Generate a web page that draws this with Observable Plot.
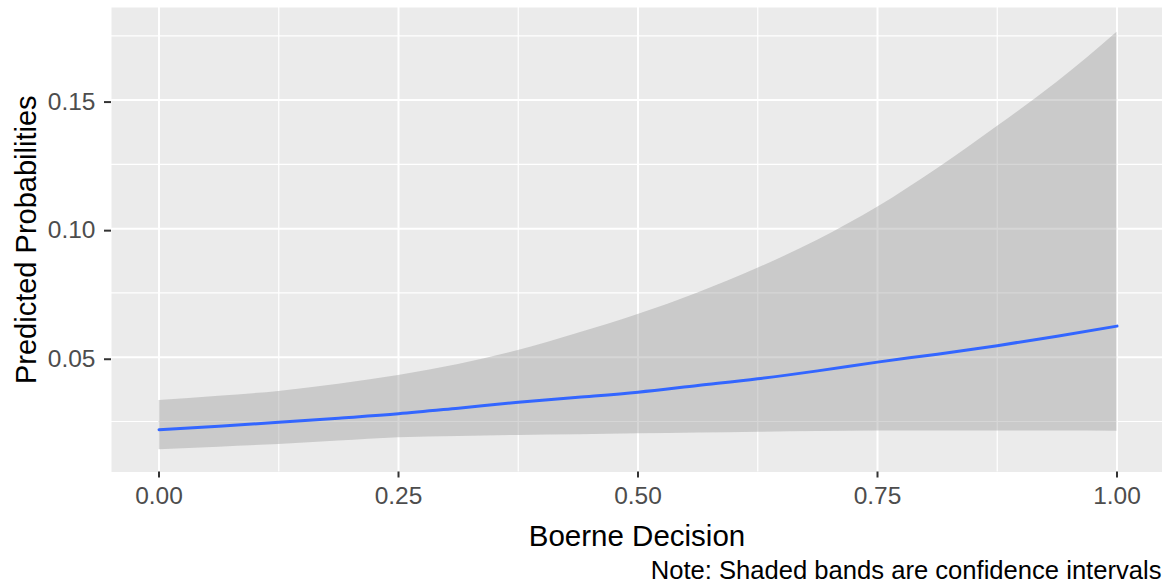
<!DOCTYPE html>
<html>
<head>
<meta charset="utf-8">
<script src="https://cdn.jsdelivr.net/npm/d3@7"></script>
<script src="https://cdn.jsdelivr.net/npm/@observablehq/plot@0.6"></script>
<style>
  html, body { margin: 0; padding: 0; background: #ffffff; }
  #chart svg { display: block; }
</style>
</head>
<body>
<div id="chart"></div>
<script>
// Boerne Decision values (x) and predicted probabilities
const xValues = [0, 0.0625, 0.125, 0.1875, 0.25, 0.3125, 0.375, 0.4375, 0.5, 0.5625, 0.625, 0.6875, 0.75, 0.8125, 0.875, 0.9375, 1];
const fitValues = [0.0218, 0.0232, 0.0247, 0.0263, 0.0280, 0.0302, 0.0325, 0.0344, 0.0364, 0.0390, 0.0416, 0.0447, 0.0481, 0.0512, 0.0545, 0.0582, 0.0621];
const lowerValues = [0.0140, 0.0150, 0.0161, 0.0174, 0.0187, 0.0192, 0.0196, 0.0199, 0.0202, 0.0205, 0.0208, 0.0211, 0.0213, 0.0213, 0.0213, 0.0213, 0.0212];
const upperValues = [0.0332, 0.0348, 0.0367, 0.0395, 0.0429, 0.0472, 0.0526, 0.0593, 0.0666, 0.0750, 0.0846, 0.0955, 0.1083, 0.1233, 0.1397, 0.1569, 0.1764];

const xTicks = [0, 0.25, 0.5, 0.75, 1];
const xTickLabels = ["0.00", "0.25", "0.50", "0.75", "1.00"];
const xMinor = [0.125, 0.375, 0.625, 0.875];
const yTicks = [0.05, 0.10, 0.15];
const yTickLabels = ["0.05", "0.10", "0.15"];
const yMinor = [0.025, 0.075, 0.125, 0.175];

const xTitle = "Boerne Decision";
const yTitle = "Predicted Probabilities";
const captionText = "Note: Shaded bands are confidence intervals";

const data = xValues.map((x, i) => ({x, fit: fitValues[i], lower: lowerValues[i], upper: upperValues[i]}));

const font = "'Liberation Sans', Arial, sans-serif";

const chart = Plot.plot({
  width: 1162,
  height: 584,
  marginLeft: 111,
  marginRight: 0,
  marginTop: 7,
  marginBottom: 112.5,
  style: {fontFamily: font, background: "#ffffff", overflow: "visible"},
  x: {domain: [-0.0496, 1.0475], label: null},
  y: {domain: [0.00537, 0.186], label: null},
  marks: [
    Plot.frame({fill: "#EBEBEB", stroke: "none"}),
    Plot.ruleX(xMinor, {stroke: "#ffffff", strokeWidth: 1.2}),
    Plot.ruleY(yMinor, {stroke: "#ffffff", strokeWidth: 1.2}),
    Plot.ruleX(xTicks, {stroke: "#ffffff", strokeWidth: 2}),
    Plot.ruleY(yTicks, {stroke: "#ffffff", strokeWidth: 2}),
    Plot.areaY(data, {x: "x", y1: "lower", y2: "upper", fill: "#999999", fillOpacity: 0.4, curve: "monotone-x"}),
    Plot.line(data, {x: "x", y: "fit", stroke: "#3366FF", strokeWidth: 3, curve: "monotone-x"}),
    Plot.axisX({
      ticks: xTicks,
      tickFormat: d => xTickLabels[xTicks.indexOf(d)],
      tickSize: 6, tickPadding: 9,
      stroke: "#333333", strokeWidth: 2,
      fill: "#4D4D4D", fontSize: 24.5,
      label: null
    }),
    Plot.axisY({
      ticks: yTicks,
      tickFormat: d => yTickLabels[yTicks.indexOf(d)],
      tickSize: 7, tickPadding: 9,
      stroke: "#333333", strokeWidth: 2,
      fill: "#4D4D4D", fontSize: 24.5, dy: 2,
      label: null
    }),
    Plot.text([xTitle], {frameAnchor: "bottom", text: d => d, dy: 65, fontSize: 29.5, fill: "#000000", lineAnchor: "middle", textAnchor: "middle"}),
    Plot.text([yTitle], {frameAnchor: "left", text: d => d, dx: -85, rotate: -90, fontSize: 29, fill: "#000000", lineAnchor: "middle", textAnchor: "middle"}),
    Plot.text([captionText], {frameAnchor: "bottom-right", text: d => d, dx: -1, dy: 98.5, fontSize: 25.6, fill: "#000000", lineAnchor: "middle", textAnchor: "end"})
  ]
});

document.getElementById("chart").appendChild(chart);
</script>
</body>
</html>
